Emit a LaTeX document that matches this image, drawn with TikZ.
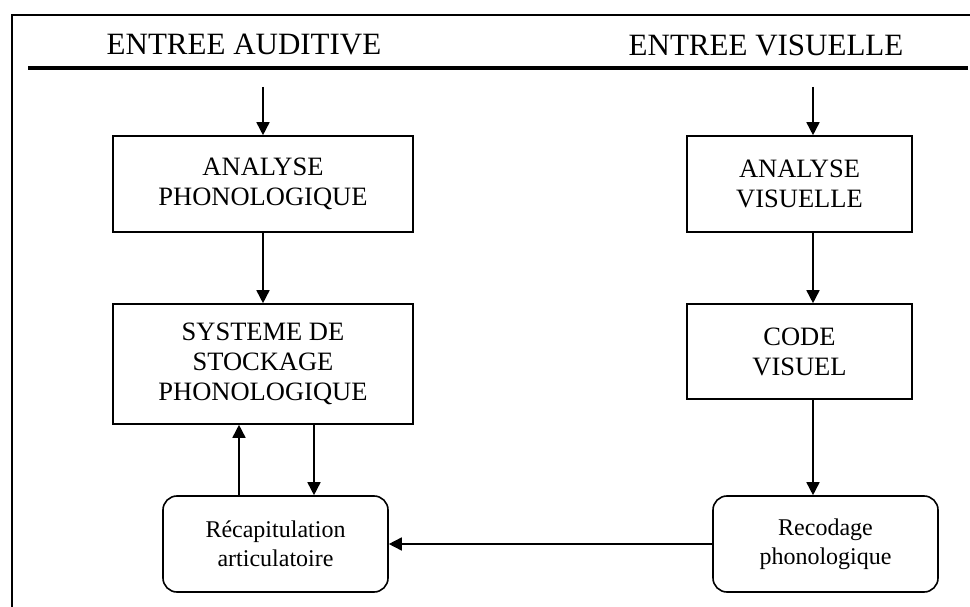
\documentclass[tikz,border=0pt]{standalone}
\usepackage{fontspec}
\setmainfont{Liberation Serif}
\usetikzlibrary{positioning, arrows.meta}
\tikzset{
    boite/.style={rectangle, draw=black, line width=1.6pt, align=center, inner sep=0pt, font=\fontsize{26.5}{30}\selectfont},
    boiteronde/.style={rectangle, rounded corners=14pt, draw=black, line width=1.6pt, align=center, inner sep=0pt, minimum width=225pt, minimum height=96pt, font=\fontsize{24}{29}\selectfont},
    titre/.style={font=\fontsize{31}{36}\selectfont, inner sep=0pt},
    fleche/.style={-{Triangle[length=13pt, width=13pt]}, line width=1.6pt}
}

\begin{document}
\begin{tikzpicture}[x=1pt, y=-1pt]
    \useasboundingbox (0,0) rectangle (970,607);
    % cadre et titres
    \draw[line width=1.4pt] (12,607) -- (12,15) -- (970,15);
    \draw[line width=4pt] (28,68) -- (968,68);
    \node[titre] (entAud) at (244,45) {ENTREE AUDITIVE};
    \node[titre] (entVis) at (766,45) {ENTREE VISUELLE};
    % voie auditive
    \node[boite, minimum width=300pt, minimum height=96pt] (anaP) at (263,184)
      {ANALYSE\\PHONOLOGIQUE};
    \node[boite, minimum width=300pt, minimum height=120pt] (stock) at (263,364)
      {SYSTEME DE\\STOCKAGE\\PHONOLOGIQUE};
    \node[boiteronde] (recap) at (275.5,544) {Récapitulation\\articulatoire};
    % voie visuelle
    \node[boite, minimum width=225pt, minimum height=96pt] (anaV) at (799.5,184)
      {ANALYSE\\VISUELLE};
    \node[boite, minimum width=225pt, minimum height=95pt] (codeV) at (799.5,351.5)
      {CODE\\VISUEL};
    \node[boiteronde] (recod) at (825.5,544) {Recodage\\phonologique};
    % fleches
    \coordinate (dAud) at (263,87);
    \coordinate (dVis) at (813,87);
    \coordinate (xMonte) at (239,0);
    \coordinate (xDescend) at (314,0);
    \draw[fleche] (dAud) -- (anaP);
    \draw[fleche] (anaP) -- (stock);
    \draw[fleche] (dVis) -- (dVis |- anaV.north);
    \draw[fleche] (anaV.south -| dVis) -- (codeV.north -| dVis);
    \draw[fleche] (codeV.south -| dVis) -- (recod.north -| dVis);
    \draw[fleche] (recap.north -| xMonte) -- (stock.south -| xMonte);
    \draw[fleche] (stock.south -| xDescend) -- (recap.north -| xDescend);
    \draw[fleche] (recod) -- (recap);
\end{tikzpicture}
\end{document}
